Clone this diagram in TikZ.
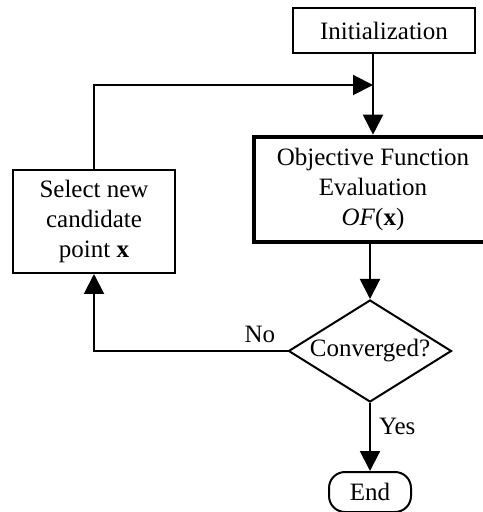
\documentclass[tikz,border=0pt]{standalone}
\usepackage{fontspec}
\setmainfont{Liberation Serif}
\usetikzlibrary{positioning,arrows.meta,shapes.geometric}
\tikzset{
  pbox/.style ={rectangle, draw=black, line width=1pt, fill=white, align=center,
                inner sep=2pt, font=\fontsize{12.5}{14.8}\selectfont},
  obox/.style ={pbox, line width=2.3pt},
  dbox/.style ={diamond, aspect=1.6, draw=black, line width=1pt, fill=white,
                inner sep=0pt, font=\fontsize{12.5}{14.8}\selectfont},
  tbox/.style ={pbox, rounded corners=8pt},
  arr/.style  ={-{Triangle[length=10pt,width=10pt]}, line width=1pt},
  el/.style   ={font=\fontsize{12.5}{14.8}\selectfont, inner sep=1pt},
}

\begin{document}
\begin{tikzpicture}[x=0.5pt,y=-0.5pt]
  \useasboundingbox (0,0) rectangle (482,512);
  \node[pbox, minimum width=91pt, minimum height=22.5pt] (init) at (384,30.5) {Initialization};
  \node[obox, minimum width=119pt, minimum height=52.5pt] (of) at (373,189.5)
       {Objective Function\\Evaluation\\\textit{OF}(\textbf{x})};
  \node[pbox, minimum width=81pt, minimum height=51.5pt] (sel) at (94,221.5)
       {Select new\\candidate\\point \textbf{x}};
  \node[dbox, minimum width=81.5pt, minimum height=51pt] (conv) at (370,351) {Converged?};
  \node[tbox, minimum width=41pt, minimum height=20pt, below=34pt of conv] (end) {End};
  \coordinate (merge) at (373,85);

  \draw[arr] (init.south -| of.north) -- (of.north);
  \draw[arr] (sel.north) |- (merge);
  \draw[arr] (of.south -| conv.north) -- (conv.north);
  \draw[arr] (conv.south) -- node[el, right=3pt, pos=0.35] {Yes} (end.north);
  \draw[arr] (conv.west) -| (sel.south);
  \node[el, anchor=south east] (no) at ([xshift=-5pt,yshift=3pt]conv.west) {No};
\end{tikzpicture}
\end{document}
